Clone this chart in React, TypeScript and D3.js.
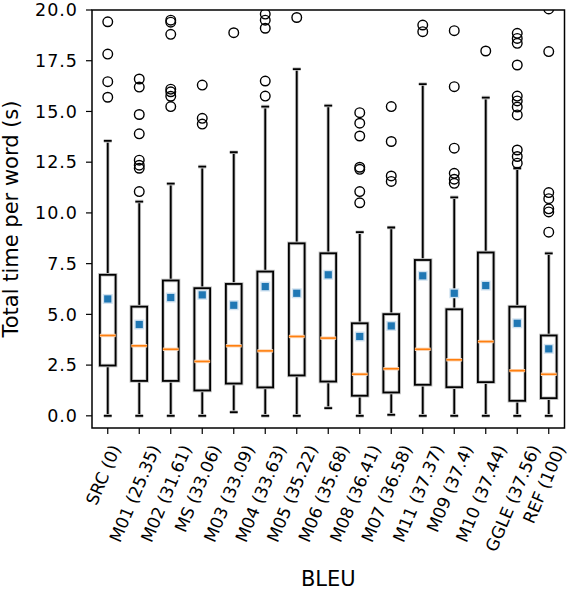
import React, { useEffect, useRef } from 'react';
import * as d3 from 'd3';

// model names with their BLEU score
const categories = [
  'SRC (0)', 'M01 (25.35)', 'M02 (31.61)', 'MS (33.06)', 'M03 (33.09)',
  'M04 (33.63)', 'M05 (35.22)', 'M06 (35.68)', 'M08 (36.41)', 'M07 (36.58)',
  'M11 (37.37)', 'M09 (37.4)', 'M10 (37.44)', 'GGLE (37.56)', 'REF (100)',
];

const q1 = [2.48, 1.72, 1.72, 1.25, 1.59, 1.4, 1.99, 1.69, 0.99, 1.15, 1.53, 1.41, 1.66, 0.74, 0.87];
const medians = [3.96, 3.45, 3.28, 2.68, 3.45, 3.2, 3.91, 3.83, 2.05, 2.32, 3.28, 2.76, 3.66, 2.23, 2.05];
const q3 = [6.95, 5.38, 6.67, 6.29, 6.5, 7.11, 8.5, 8.01, 4.56, 5.01, 7.68, 5.25, 8.05, 5.38, 3.96];
const whiskerLow = [0, 0, 0, 0, 0.18, 0, 0, 0.38, 0, 0.05, 0, 0, 0, 0, 0];
const whiskerHigh = [13.55, 10.56, 11.44, 12.28, 12.99, 15.24, 17.09, 15.29, 9.05, 9.28, 16.35, 10.77, 15.68, 12.2, 8.01];
const means = [5.76, 4.5, 5.83, 5.96, 5.45, 6.37, 6.04, 6.95, 3.91, 4.43, 6.9, 6.04, 6.42, 4.56, 3.3];

const outliers = [
  [19.42, 17.83, 16.47, 15.7],
  [16.6, 16.2, 14.85, 13.9, 12.6, 12.35, 12.2, 11.05],
  [19.5, 19.4, 18.8, 16.1, 15.97, 15.75, 15.24],
  [16.3, 14.66, 14.38],
  [18.88],
  [19.8, 19.5, 19.1, 16.5, 15.76],
  [19.63],
  [],
  [14.94, 14.42, 13.79, 12.25, 12.15, 11.05, 10.5],
  [15.24, 13.52, 11.82, 11.55],
  [19.26, 18.93],
  [18.98, 16.22, 13.19, 11.95, 11.66, 11.46],
  [17.98],
  [18.85, 18.6, 18.36, 17.29, 15.76, 15.52, 15.22, 14.83, 13.1, 12.78, 12.45],
  [20.05, 17.95, 11.0, 10.7, 10.2, 10.05, 9.05],
];

const yTicks = [0, 2.5, 5, 7.5, 10, 12.5, 15, 17.5, 20];

const width = 570;
const height = 592;
const font = '"DejaVu Sans", sans-serif';

const App: React.FC = () => {
  const svgRef = useRef<SVGSVGElement>(null);

  useEffect(() => {
    if (!svgRef.current) return;
    const svg = d3.select(svgRef.current);
    svg.selectAll('*').remove();

    const left = 92, right = 564.5, top = 10, bottom = 428;

    const x = d3.scaleBand<string>().domain(categories).range([left, right]).padding(0);
    const y = d3.scaleLinear().domain([-0.6, 20]).range([bottom, top]);
    const cx = (c: string) => (x(c) as number) + x.bandwidth() / 2;
    const half = x.bandwidth() * 0.25;
    const cap = x.bandwidth() * 0.125;

    svg.append('defs').append('clipPath').attr('id', 'plot-clip')
      .append('rect').attr('x', left).attr('y', top)
      .attr('width', right - left).attr('height', bottom - top);

    const plot = svg.append('g').attr('clip-path', 'url(#plot-clip)');

    // black line with a soft grey edge, like the source image
    const seg = (x1: number, y1: number, x2: number, y2: number) => {
      plot.append('line').attr('x1', x1).attr('y1', y1).attr('x2', x2).attr('y2', y2)
        .attr('stroke', '#c6c6c6').attr('stroke-width', 3.6);
      plot.append('line').attr('x1', x1).attr('y1', y1).attr('x2', x2).attr('y2', y2)
        .attr('stroke', '#000').attr('stroke-width', 1.8);
    };

    categories.forEach((c, i) => {
      const xc = cx(c);
      // whiskers + caps
      seg(xc, y(q1[i]), xc, y(whiskerLow[i]));
      seg(xc, y(q3[i]), xc, y(whiskerHigh[i]));
      seg(xc - cap, y(whiskerLow[i]), xc + cap, y(whiskerLow[i]));
      seg(xc - cap, y(whiskerHigh[i]), xc + cap, y(whiskerHigh[i]));
      // box
      plot.append('rect')
        .attr('x', xc - half).attr('y', y(q3[i]))
        .attr('width', half * 2).attr('height', y(q1[i]) - y(q3[i]))
        .attr('fill', 'none').attr('stroke', '#c6c6c6').attr('stroke-width', 3.6);
      plot.append('rect')
        .attr('x', xc - half).attr('y', y(q3[i]))
        .attr('width', half * 2).attr('height', y(q1[i]) - y(q3[i]))
        .attr('fill', 'none').attr('stroke', '#000').attr('stroke-width', 1.8);
      // median
      plot.append('line')
        .attr('x1', xc - half).attr('x2', xc + half)
        .attr('y1', y(medians[i])).attr('y2', y(medians[i]))
        .attr('stroke', '#fcd9bb').attr('stroke-width', 3.4);
      plot.append('line')
        .attr('x1', xc - half).attr('x2', xc + half)
        .attr('y1', y(medians[i])).attr('y2', y(medians[i]))
        .attr('stroke', '#ff7f0e').attr('stroke-width', 1.6);
      // fliers
      plot.selectAll(null)
        .data(outliers[i])
        .enter()
        .append('circle')
        .attr('cx', xc)
        .attr('cy', d => y(d))
        .attr('r', 4.8)
        .attr('fill', 'none')
        .attr('stroke', '#000')
        .attr('stroke-width', 1.4);
      // mean marker
      plot.append('rect')
        .attr('x', xc - 5).attr('y', y(means[i]) - 5)
        .attr('width', 10).attr('height', 10)
        .attr('fill', '#d2e3f1');
      plot.append('rect')
        .attr('x', xc - 3.6).attr('y', y(means[i]) - 3.6)
        .attr('width', 7.2).attr('height', 7.2)
        .attr('fill', '#1f77b4');
    });

    // frame
    svg.append('rect')
      .attr('x', left).attr('y', top)
      .attr('width', right - left).attr('height', bottom - top)
      .attr('fill', 'none').attr('stroke', '#000').attr('stroke-width', 1.5);

    // y axis
    const yAxis = svg.append('g');
    yTicks.forEach(t => {
      yAxis.append('line')
        .attr('x1', left - 6).attr('x2', left)
        .attr('y1', y(t)).attr('y2', y(t))
        .attr('stroke', '#000').attr('stroke-width', 1.2);
      yAxis.append('text')
        .attr('x', left - 14)
        .attr('y', y(t))
        .attr('dy', '0.36em')
        .attr('text-anchor', 'end')
        .style('font-family', font)
        .style('font-size', '17.5px')
        .style('letter-spacing', '1px')
        .style('fill', '#000')
        .text(t.toFixed(1));
    });

    // x axis
    const angle = 67;
    const rad = (angle * Math.PI) / 180;
    const fs = 17;
    const asc = 0.76 * fs, desc = 0.24 * fs;
    const labelTop = 443;
    const xAxis = svg.append('g');
    categories.forEach(c => {
      const xc = cx(c);
      xAxis.append('line')
        .attr('x1', xc).attr('x2', xc)
        .attr('y1', bottom).attr('y2', bottom + 6)
        .attr('stroke', '#000').attr('stroke-width', 1.2);
      const t = xAxis.append('text')
        .attr('text-anchor', 'end')
        .style('font-family', font)
        .style('font-size', `${fs}px`)
        .style('fill', '#000')
        .text(c);
      const L = (t.node() as SVGTextElement).getComputedTextLength();
      const px = xc - 3 + (L * Math.cos(rad) + (asc - desc) * Math.sin(rad)) / 2;
      const py = labelTop + asc * Math.cos(rad);
      t.attr('transform', `translate(${px},${py}) rotate(${-angle})`);
    });

    // axis titles
    svg.append('text')
      .attr('transform', `translate(18,${(top + bottom) / 2}) rotate(-90)`)
      .attr('text-anchor', 'middle')
      .style('font-family', font)
      .style('font-size', '21px')
      .style('fill', '#000')
      .text('Total time per word (s)');

    svg.append('text')
      .attr('x', (left + right) / 2)
      .attr('y', 586)
      .attr('text-anchor', 'middle')
      .style('font-family', font)
      .style('font-size', '21px')
      .style('fill', '#000')
      .text('BLEU');
  }, []);

  return (
    <svg
      ref={svgRef}
      width={width}
      height={height}
      style={{ position: 'absolute', left: 0, top: 0, background: '#fff' }}
    />
  );
};

export default App;
